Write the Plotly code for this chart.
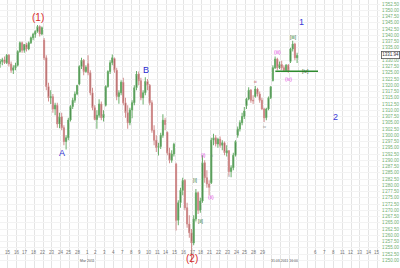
import plotly.graph_objects as go

# ---- axis categories -------------------------------------------------------
# trading days shown on the time axis (Feb 14 2011 .. Apr 15 2011)
day_labels = ["14", "15", "16", "17", "18", "22", "23", "24", "25", "28",
              "1", "2", "3", "4", "7", "8", "9", "10", "11", "14", "15", "16", "17", "18",
              "21", "22", "23", "24", "25", "28", "29", "30", "31", "1",
              "4", "5", "6", "7", "8", "11", "12", "13", "14", "15"]
hidden_day_labels = [31, 32, 33, 34, 35]  # covered by the cursor time stamp
candles_per_day = 4
n_data_days = 34  # Feb 14 .. Apr 1

# ---- price data (4 intraday bars per day) ----------------------------------
opens = [
    1328.7, 1329.5, 1330.2, 1329.0,  1332.0, 1328.5, 1326.0, 1327.0,
    1328.0, 1333.5, 1337.0, 1334.0,  1336.3, 1334.5, 1337.0, 1339.0,
    1340.4, 1341.5, 1343.5, 1340.5,  1338.0, 1331.0, 1319.5, 1315.0,
    1315.4, 1310.5, 1312.0, 1304.5,  1307.4, 1303.0, 1297.5, 1299.0,
    1306.1, 1311.5, 1314.0, 1316.5,  1320.5, 1327.5, 1330.0, 1325.5,
    1328.6, 1325.0, 1317.0, 1311.0,  1306.3, 1308.0, 1312.5, 1307.0,
    1312.0, 1319.5, 1325.5, 1329.0,  1330.7, 1326.0, 1315.5, 1317.0,
    1321.2, 1313.0, 1309.0, 1305.0,  1310.1, 1313.0, 1319.0, 1324.5,
    1321.8, 1315.0, 1317.0, 1321.5,  1320.0, 1313.0, 1302.0, 1298.0,
    1295.1, 1295.5, 1300.0, 1306.0,  1301.2, 1293.0, 1290.0, 1292.5,
    1288.5, 1266.0, 1273.0, 1278.0,  1281.9, 1271.0, 1264.5, 1261.0,
    1256.9, 1266.5, 1277.0, 1270.0,  1273.7, 1289.0, 1283.0, 1280.5,
    1281.0, 1298.0, 1299.0, 1296.5,  1298.4, 1296.0, 1297.0, 1293.0,
    1293.8, 1285.5, 1287.0, 1292.0,  1300.0, 1302.5, 1305.0, 1307.5,
    1311.8, 1314.5, 1318.0, 1314.0,  1315.5, 1318.5, 1316.5, 1314.0,
    1310.5, 1307.0, 1310.5, 1315.0,  1321.9, 1327.0, 1330.5, 1327.0,
    1328.3, 1327.0, 1326.0, 1328.0,  1329.5, 1334.5, 1336.5, 1331.0,
]
highs = [
    1330.5, 1331.0, 1331.5, 1332.5,  1332.5, 1329.5, 1328.0, 1329.0,
    1334.0, 1337.5, 1337.5, 1336.5,  1337.0, 1337.5, 1339.5, 1341.0,
    1342.0, 1344.1, 1344.0, 1343.5,  1338.9, 1332.0, 1321.0, 1318.0,
    1316.5, 1313.0, 1313.0, 1309.0,  1309.0, 1304.0, 1300.0, 1307.0,
    1312.0, 1315.0, 1317.5, 1320.2,  1328.0, 1331.0, 1330.5, 1328.0,
    1332.0, 1326.0, 1319.0, 1312.0,  1310.0, 1314.4, 1313.5, 1310.0,
    1320.0, 1326.0, 1330.0, 1332.3,  1331.1, 1327.0, 1318.0, 1322.0,
    1323.0, 1315.0, 1312.0, 1311.0,  1314.0, 1320.0, 1325.7, 1325.5,
    1323.0, 1318.0, 1323.2, 1322.5,  1320.5, 1314.0, 1304.0, 1300.0,
    1297.0, 1301.0, 1308.4, 1307.0,  1301.5, 1295.0, 1294.0, 1297.0,
    1289.0, 1274.0, 1279.0, 1283.0,  1282.5, 1273.0, 1268.0, 1262.5,
    1268.0, 1278.5, 1277.5, 1275.0,  1292.0, 1290.0, 1286.0, 1282.0,
    1299.0, 1300.6, 1300.0, 1299.0,  1299.5, 1298.0, 1297.5, 1296.0,
    1294.0, 1288.0, 1293.0, 1298.0,  1303.5, 1306.0, 1309.0, 1311.3,
    1315.0, 1319.2, 1318.5, 1316.0,  1319.7, 1319.0, 1317.5, 1315.0,
    1311.0, 1311.0, 1315.5, 1319.5,  1328.0, 1331.5, 1331.0, 1329.5,
    1329.8, 1328.0, 1328.5, 1328.5,  1335.0, 1337.8, 1337.0, 1333.0,
]
lows = [
    1327.0, 1328.0, 1328.5, 1328.5,  1327.5, 1325.0, 1324.5, 1326.0,
    1327.5, 1333.0, 1333.0, 1333.0,  1333.5, 1334.0, 1336.5, 1338.0,
    1339.0, 1341.0, 1339.5, 1340.0,  1330.0, 1318.0, 1313.5, 1312.5,
    1309.0, 1308.0, 1303.0, 1302.8,  1302.0, 1296.0, 1294.3, 1298.0,
    1305.5, 1310.5, 1313.0, 1316.0,  1320.0, 1326.5, 1324.0, 1325.0,
    1324.0, 1316.0, 1310.0, 1306.0,  1302.6, 1307.0, 1306.0, 1305.5,
    1311.5, 1319.0, 1324.5, 1328.0,  1325.0, 1314.0, 1312.6, 1316.0,
    1312.0, 1307.0, 1302.6, 1304.0,  1306.8, 1312.0, 1318.0, 1320.0,
    1314.0, 1312.3, 1316.0, 1318.0,  1312.0, 1301.0, 1296.0, 1293.3,
    1291.9, 1294.5, 1299.0, 1302.0,  1292.0, 1288.8, 1289.0, 1291.5,
    1261.9, 1264.0, 1271.0, 1276.0,  1270.0, 1263.0, 1259.0, 1249.0,
    1256.0, 1265.5, 1268.5, 1269.0,  1273.0, 1281.0, 1279.0, 1276.0,
    1280.5, 1296.0, 1295.5, 1295.0,  1295.0, 1294.0, 1292.0, 1291.5,
    1284.0, 1283.2, 1286.0, 1291.5,  1299.0, 1301.5, 1304.0, 1306.5,
    1310.5, 1314.0, 1313.0, 1312.5,  1315.0, 1315.5, 1313.0, 1310.2,
    1305.3, 1306.0, 1310.0, 1314.5,  1321.5, 1326.5, 1326.0, 1326.5,
    1326.0, 1325.5, 1325.5, 1325.0,  1328.9, 1333.5, 1330.0, 1328.9,
]
closes = [
    1329.5, 1330.2, 1329.0, 1332.0,  1328.5, 1326.0, 1327.0, 1328.0,
    1333.5, 1337.0, 1334.0, 1336.3,  1334.5, 1337.0, 1339.0, 1340.4,
    1341.5, 1343.5, 1340.5, 1343.0,  1331.0, 1319.5, 1315.0, 1315.4,
    1310.5, 1312.0, 1304.5, 1307.4,  1303.0, 1297.5, 1299.0, 1306.1,
    1311.5, 1314.0, 1316.5, 1319.9,  1327.5, 1330.0, 1325.5, 1327.2,
    1325.0, 1317.0, 1311.0, 1306.3,  1308.0, 1312.5, 1307.0, 1308.4,
    1319.5, 1325.5, 1329.0, 1331.0,  1326.0, 1315.5, 1317.0, 1321.2,
    1313.0, 1309.0, 1305.0, 1310.1,  1313.0, 1319.0, 1324.5, 1321.8,
    1315.0, 1317.0, 1321.5, 1320.0,  1313.0, 1302.0, 1298.0, 1295.1,
    1295.5, 1300.0, 1306.0, 1304.3,  1293.0, 1290.0, 1292.5, 1296.4,
    1266.0, 1273.0, 1278.0, 1281.9,  1271.0, 1264.5, 1261.0, 1256.9,
    1266.5, 1277.0, 1270.0, 1273.7,  1289.0, 1283.0, 1280.5, 1279.2,
    1298.0, 1299.0, 1296.5, 1298.4,  1296.0, 1297.0, 1293.0, 1293.8,
    1285.5, 1287.0, 1292.0, 1297.5,  1302.5, 1305.0, 1307.5, 1309.7,
    1314.5, 1318.0, 1314.0, 1313.8,  1318.5, 1316.5, 1314.0, 1310.5,
    1307.0, 1310.5, 1315.0, 1319.4,  1327.0, 1330.5, 1327.0, 1328.3,
    1327.0, 1326.0, 1328.0, 1325.8,  1334.5, 1336.5, 1331.0, 1331.94,
]
last_price = 1331.94
support_level = 1325.6

# ---- wave labels: (text, day position, price, colour, size) -----------------
wave_labels = [
    ("(1)", 4.45, 1347.0, "#d62a2a", 10),
    ("A", 7.15, 1292.8, "#2a2ad0", 9),
    ("B", 16.7, 1326.2, "#2a2ad0", 9),
    ("(2)", 21.9, 1250.8, "#d62a2a", 10),
    ("1", 34.4, 1345.3, "#3a3ad8", 9),
    ("2", 38.2, 1307.3, "#3a3ad8", 9),
    ("[i]", 22.3, 1282.0, "#2e6b2e", 5),
    ("[ii]", 22.9, 1265.7, "#2e6b2e", 5),
    ("[iii]", 33.5, 1339.4, "#2e6b2e", 5),
    ("[iv]", 34.8, 1325.6, "#2e6b2e", 5),
    ("(i)", 23.2, 1292.3, "#e040e0", 5),
    ("(ii)", 24.1, 1275.3, "#e040e0", 5),
    ("(iii)", 31.7, 1333.3, "#e040e0", 5),
    ("(iv)", 32.95, 1322.5, "#e040e0", 5),
    ("i", 24.3, 1292.0, "#888888", 4),
    ("ii", 26.1, 1284.0, "#888888", 4),
    ("iii", 29.1, 1321.7, "#c05050", 4),
    ("iv", 30.2, 1303.6, "#888888", 4),
]

price_ticks = [1250 + 2.5 * i for i in range(42)]
price_tick_text = [f"{v:,.2f}".replace(",", "'") for v in price_ticks]

# ---- build -----------------------------------------------------------------
xs = [d + (k + 0.5) / candles_per_day
      for d in range(n_data_days) for k in range(candles_per_day)]

fig = go.Figure()
fig.add_trace(go.Candlestick(
    x=xs, open=opens, high=highs, low=lows, close=closes,
    increasing=dict(line=dict(color="#6aae6a", width=1), fillcolor="#10561a"),
    decreasing=dict(line=dict(color="#d38f8f", width=1), fillcolor="#6e0f0f"),
    whiskerwidth=0, showlegend=False, hoverinfo="skip",
))

# support line
fig.add_shape(type="line", xref="x", yref="y",
              x0=day_labels.index("30", 25) + 0.4, x1=36.25,
              y0=support_level, y1=support_level,
              line=dict(color="#2e8b2e", width=1.5))

annotations = []
for text, dpos, price, color, size in wave_labels:
    annotations.append(dict(x=dpos, y=price, xref="x", yref="y", text=text,
                            showarrow=False, font=dict(color=color, size=size,
                                                       family="Liberation Sans")))
# day labels along the time axis
for i, lab in enumerate(day_labels):
    if i in hidden_day_labels:
        continue
    annotations.append(dict(x=i, y=1 - 257 / 268, xref="x", yref="paper", text=lab,
                            showarrow=False, font=dict(color="#777777", size=4.5,
                                                       family="Liberation Sans")))
annotations.append(dict(x=day_labels.index("1"), y=1 - 264.5 / 268, xref="x", yref="paper",
                        text="Mar 2011", showarrow=False,
                        font=dict(color="#555555", size=3.5, family="Liberation Sans")))
annotations.append(dict(x=32.4, y=1 - 264.5 / 268, xref="x", yref="paper",
                        text="31.03.2011 16:00", showarrow=False,
                        font=dict(color="#555555", size=3.5, family="Liberation Sans")))
# last price box
annotations.append(dict(x=1, y=last_price, xref="paper", yref="y", xanchor="left",
                        text=f"{last_price:.2f}", showarrow=False,
                        font=dict(color="#333333", size=4.5, family="Liberation Sans"),
                        bgcolor="white", bordercolor="#555555", borderwidth=0.8,
                        borderpad=0.5, xshift=1))

ppu = 2.5  # px per price unit
top_price = 1352.5 + 4 / ppu
bottom_price = top_price - 268 / ppu

fig.update_layout(
    width=400, height=268, margin=dict(l=0, r=20, t=0, b=0),
    paper_bgcolor="white", plot_bgcolor="white",
    annotations=annotations,
    xaxis=dict(range=[1 / 8.8, 381 / 8.8], tickvals=list(range(len(day_labels))),
               showticklabels=False, showgrid=True, gridcolor="#e4e4e4", gridwidth=1,
               zeroline=False, showline=False, rangeslider=dict(visible=False),
               fixedrange=True),
    yaxis=dict(range=[bottom_price, top_price], side="right",
               tickvals=price_ticks, ticktext=price_tick_text,
               tickfont=dict(color="#6fae6f", size=4.5, family="Liberation Sans"),
               showgrid=True, gridcolor="#f3f3f3", zeroline=False, ticks="",
               ticklabelstandoff=1, fixedrange=True),
)

fig.write_html("out.html")
